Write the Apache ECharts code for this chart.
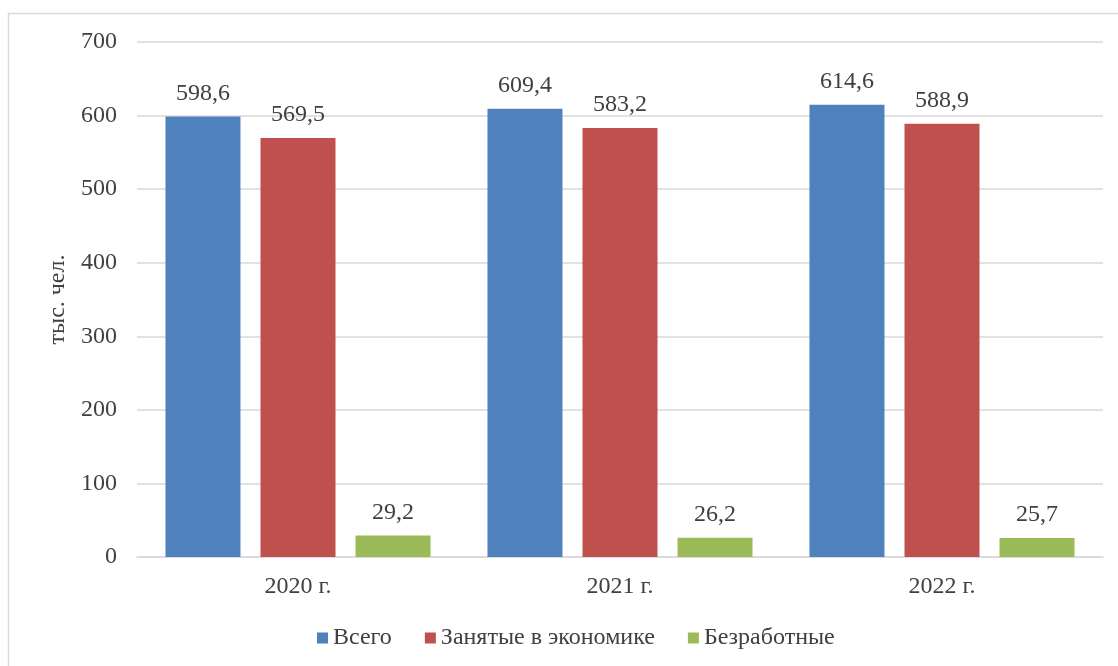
<!DOCTYPE html>
<html><head><meta charset="utf-8">
<script src="https://cdn.jsdelivr.net/npm/echarts@6/dist/echarts.min.js"></script>
<style>html,body{margin:0;padding:0;background:#fff}#c{width:1118px;height:666px}</style>
</head><body><div id="c"></div>
<script>
const categories = ['2020 г.', '2021 г.', '2022 г.'];
const seriesNames = ['Всего', 'Занятые в экономике', 'Безработные'];
const total = [598.6, 609.4, 614.6];
const employed = [569.5, 583.2, 588.9];
const unemployed = [29.2, 26.2, 25.7];
const colors = ['#4F81BD', '#C0504D', '#9BBB59'];
const font = '"Liberation Serif", "DejaVu Serif", serif';
const txt = '#404040';
const chart = echarts.init(document.getElementById('c'));
const fmt = p => p.value.toFixed(1).replace('.', ',');
function mk(name, data, color) {
  return {
    name, type: 'bar', data, barWidth: 75, barGap: '26.7%',
    itemStyle: { color },
    label: { show: true, position: 'top', distance: 11, formatter: fmt, color: txt, fontFamily: font, fontSize: 24 }
  };
}
chart.setOption({
  animation: false,
  textStyle: { fontFamily: font },
  graphic: [{ type: 'rect', shape: { x: 8.5, y: 13.5, width: 1130, height: 700 }, style: { fill: null, stroke: '#d9d9d9', lineWidth: 1.5 } }],
  grid: { left: 137, right: 15, top: 42, bottom: 109 },
  legend: {
    bottom: 11, left: 312, itemWidth: 11, itemHeight: 11, itemGap: 33,
    icon: 'rect', textStyle: { color: txt, fontFamily: font, fontSize: 24 },
    data: seriesNames
  },
  xAxis: {
    type: 'category', data: categories,
    axisLine: { lineStyle: { color: '#d9d9d9', width: 1.5 } }, axisTick: { show: false },
    axisLabel: { color: txt, fontFamily: font, fontSize: 24, margin: 18 }
  },
  yAxis: {
    type: 'value', min: 0, max: 700, interval: 100,
    name: 'тыс. чел.', nameLocation: 'middle', nameGap: 60, nameRotate: 90,
    nameTextStyle: { color: txt, fontFamily: font, fontSize: 24 },
    axisLabel: { color: txt, fontFamily: font, fontSize: 24, margin: 20 },
    splitLine: { lineStyle: { color: '#d9d9d9', width: 1.5 } },
    axisLine: { show: false }, axisTick: { show: false }
  },
  series: [mk(seriesNames[0], total, colors[0]), mk(seriesNames[1], employed, colors[1]), mk(seriesNames[2], unemployed, colors[2])]
});
</script></body></html>
